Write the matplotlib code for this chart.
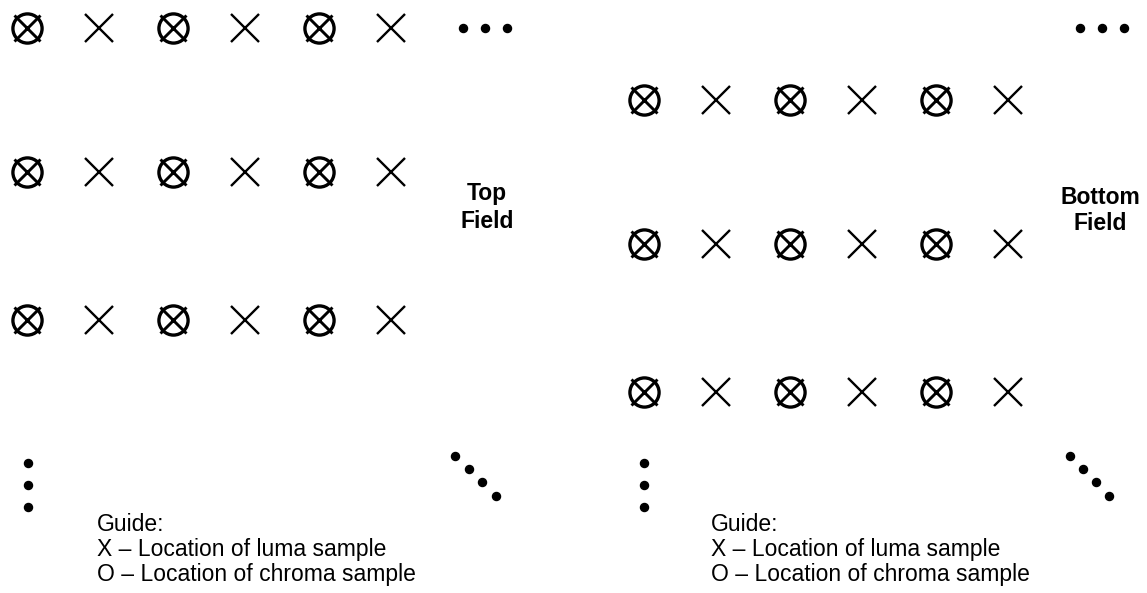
import numpy as np
import matplotlib
matplotlib.use("Agg")
import matplotlib.pyplot as plt

plt.rcParams['font.family'] = ['Liberation Sans', 'DejaVu Sans']

# sample grid (pixel-like coordinates, y grows downward)
top_cols = [27, 99, 173, 245, 319, 391]
top_rows = [28, 172, 320]
bottom_cols = [644, 716, 790, 862, 936, 1008]
bottom_rows = [100, 244, 392]
has_chroma = [True, False, True, False, True, False]

# continuation dots
top_dots_x = [463, 485, 507]
top_dots_y = [28, 28, 28]
bot_dots_x = [1080, 1102, 1124]
bot_dots_y = [28, 28, 28]
left_vdots_x = [28, 28, 28]
right_vdots_x = [644, 644, 644]
vdots_y = [463, 485, 507]
top_diag_x = [455, 469, 482, 496]
bot_diag_x = [1070, 1083, 1096, 1109]
diag_y = [456, 469, 482, 496]

# labels: one entry per line
top_label = ["Top", "Field"]
top_label_x = 487
top_label_base = [200, 228]
bottom_label = ["Bottom", "Field"]
bottom_label_x = 1100
bottom_label_base = [204, 230]
guide_lines = ["Guide:",
               "X \u2013 Location of luma sample",
               "O \u2013 Location of chroma sample"]
guide_x = [97, 711]
guide_base = [531, 556, 581]

fig = plt.figure(figsize=(11.47, 5.93), dpi=100)
ax = fig.add_axes([0, 0, 1, 1])
ax.set_xlim(0, 1147)
ax.set_ylim(593, 0)
ax.axis('off')


def draw_field(cols, rows):
    cols = np.array(cols)
    chroma = np.array(has_chroma)
    for r in rows:
        ys = np.full(len(cols), r)
        ax.plot(cols[~chroma], ys[~chroma], linestyle='none', marker='x',
                markersize=20.5, mew=1.7, color='black')
        ax.plot(cols[chroma], ys[chroma], linestyle='none', marker='x',
                markersize=18.5, mew=2.1, color='black')
        ax.plot(cols[chroma], ys[chroma], linestyle='none', marker='o',
                markersize=21, mew=2.4, mfc='none', mec='black')


draw_field(top_cols, top_rows)
draw_field(bottom_cols, bottom_rows)

dot_kw = dict(linestyle='none', marker='o', markersize=5.8, color='black')
ax.plot(top_dots_x, top_dots_y, **dot_kw)
ax.plot(bot_dots_x, bot_dots_y, **dot_kw)
ax.plot(left_vdots_x, vdots_y, **dot_kw)
ax.plot(right_vdots_x, vdots_y, **dot_kw)
ax.plot(top_diag_x, diag_y, **dot_kw)
ax.plot(bot_diag_x, diag_y, **dot_kw)

for lab, y in zip(top_label, top_label_base):
    ax.text(top_label_x, y, lab, ha='center', va='baseline', fontsize=16.5,
            fontweight='bold')
for lab, y in zip(bottom_label, bottom_label_base):
    ax.text(bottom_label_x, y, lab, ha='center', va='baseline', fontsize=16.5,
            fontweight='bold')

for x in guide_x:
    for line, y in zip(guide_lines, guide_base):
        ax.text(x, y, line, ha='left', va='baseline', fontsize=16.5)

fig.savefig('out.png', dpi=100)
